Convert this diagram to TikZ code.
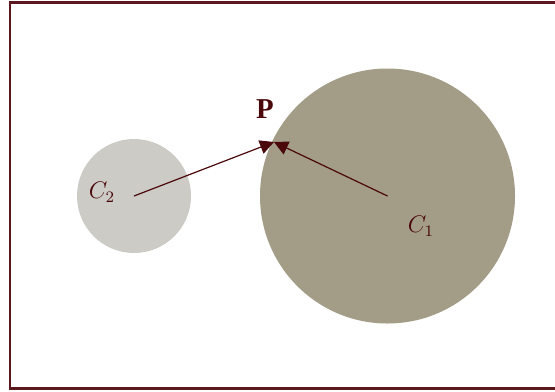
\documentclass[tikz,border=0pt]{standalone}
\usepackage{tikz}
\usepackage{fontspec}
\setmainfont{Liberation Serif}
\usetikzlibrary{arrows.meta}

\definecolor{framered}{RGB}{92,24,28}
\definecolor{arrowred}{RGB}{74,8,10}
\definecolor{bigdisc}{RGB}{163,156,134}
\definecolor{smalldisc}{RGB}{204,203,198}

\begin{document}
\begin{tikzpicture}
 [x=0.5pt, y=-0.5pt,
  disc node/.style={circle, draw=none, inner sep=0pt},
  label node/.style={text=arrowred, font=\large},
  >={Triangle[length=7pt, width=7pt]}]

\useasboundingbox (0,0) rectangle (555,391);
\draw[framered, line width=1.1pt] (10,2.5) rectangle (560,388.5);

\node[disc node, fill=bigdisc, minimum size=127.5pt] (big) at (387.5,196) {};
  \node[disc node, fill=smalldisc, minimum size=57pt] (small) at (134,196) {};

\coordinate (c1) at (387.5,196);
 \coordinate (c2) at (134,196);
\coordinate (p) at (274,142);

  \node[label node] (l1) at (421,226) {$C_1$};
  \node[label node] (l2) at (102,192) {$C_2$};
 \node[label node, font=\Large\bfseries] (lp) at (265,109) {P};

\path
  (c2) edge [->, arrowred, line width=0.6pt] (p)
  (c1) edge [->, arrowred, line width=0.6pt] (p);

\end{tikzpicture}
\end{document}
